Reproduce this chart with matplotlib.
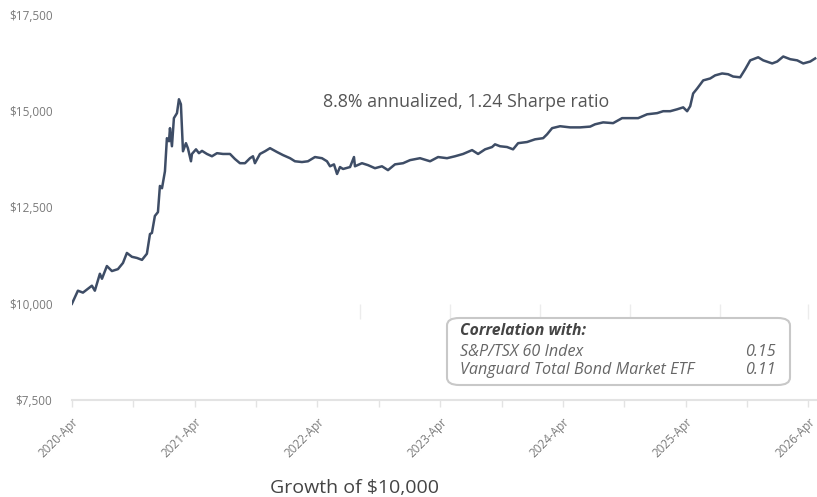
import numpy as np
import matplotlib
matplotlib.use("Agg")
import matplotlib.pyplot as plt
from matplotlib.patches import FancyBboxPatch

plt.rcParams['font.family'] = ['Open Sans', 'DejaVu Sans']

# time in decimal years (2020.25 = 2020-Apr), value of $10,000 invested
t = [2020.250, 2020.299, 2020.340, 2020.413, 2020.437, 2020.478, 2020.495, 2020.535,
     2020.576, 2020.625, 2020.666, 2020.698, 2020.739, 2020.780, 2020.821, 2020.861,
     2020.886, 2020.902, 2020.926, 2020.951, 2020.967, 2020.984, 2021.008, 2021.024,
     2021.041, 2021.049, 2021.065, 2021.081, 2021.106, 2021.122, 2021.138, 2021.147,
     2021.155, 2021.179, 2021.195, 2021.220, 2021.228, 2021.261, 2021.285, 2021.310,
     2021.350, 2021.391, 2021.432, 2021.481, 2021.538, 2021.578, 2021.619, 2021.660,
     2021.701, 2021.725, 2021.741, 2021.782, 2021.823, 2021.864, 2021.921, 2021.970,
     2022.027, 2022.067, 2022.124, 2022.173, 2022.230, 2022.287, 2022.328, 2022.353,
     2022.385, 2022.410, 2022.434, 2022.459, 2022.516, 2022.548, 2022.556, 2022.613,
     2022.662, 2022.719, 2022.776, 2022.825, 2022.882, 2022.948, 2023.005, 2023.086,
     2023.168, 2023.233, 2023.306, 2023.371, 2023.437, 2023.510, 2023.559, 2023.616,
     2023.673, 2023.697, 2023.738, 2023.795, 2023.844, 2023.885, 2023.958, 2024.023,
     2024.089, 2024.121, 2024.162, 2024.227, 2024.309, 2024.390, 2024.472, 2024.512,
     2024.578, 2024.659, 2024.732, 2024.814, 2024.863, 2024.936, 2025.018, 2025.067,
     2025.124, 2025.181, 2025.230, 2025.262, 2025.287, 2025.311, 2025.344, 2025.393,
     2025.450, 2025.490, 2025.547, 2025.596, 2025.637, 2025.694, 2025.735, 2025.776,
     2025.841, 2025.882, 2025.955, 2025.996, 2026.045, 2026.102, 2026.159, 2026.208,
     2026.265, 2026.305]
value = [10000, 10340, 10290, 10470, 10340, 10780, 10650, 10980,
         10850, 10900, 11060, 11320, 11220, 11190, 11140, 11300,
         11810, 11840, 12280, 12380, 13060, 13000, 13440, 14300,
         14220, 14560, 14090, 14820, 14950, 15310, 15180, 14560,
         13960, 14170, 14040, 13700, 13890, 14010, 13910, 13970,
         13890, 13830, 13910, 13890, 13890, 13760, 13650, 13650,
         13780, 13830, 13650, 13890, 13960, 14040, 13940, 13860,
         13780, 13700, 13680, 13700, 13810, 13780, 13700, 13570,
         13620, 13370, 13550, 13500, 13550, 13810, 13570, 13650,
         13600, 13520, 13570, 13470, 13620, 13650, 13730, 13780,
         13700, 13810, 13780, 13830, 13890, 13990, 13890, 14010,
         14070, 14140, 14090, 14070, 14010, 14170, 14200, 14270,
         14300, 14400, 14560, 14610, 14580, 14580, 14600, 14660,
         14710, 14690, 14820, 14820, 14820, 14920, 14950, 15000,
         15000, 15050, 15100, 15000, 15130, 15460, 15590, 15800,
         15850, 15930, 15980, 15960, 15900, 15880, 16090, 16320,
         16400, 16320, 16240, 16290, 16420, 16350, 16320, 16240,
         16290, 16370]

tick_years = [2020.25, 2021.25, 2022.25, 2023.25, 2024.25, 2025.25, 2026.25]
tick_labels = ['2020-Apr', '2021-Apr', '2022-Apr', '2023-Apr', '2024-Apr', '2025-Apr', '2026-Apr']
minor_years = [2020.75, 2021.75, 2022.75, 2023.75, 2024.75, 2025.75]
y_ticks = [7500, 10000, 12500, 15000, 17500]
faint_marks = [2022.597, 2023.330, 2024.064, 2024.797, 2025.531, 2026.25]

corr_names = ['S&P/TSX 60 Index', 'Vanguard Total Bond Market ETF']
corr_values = ['0.15', '0.11']

fig = plt.figure(figsize=(8.17, 4.97), dpi=100)
ax = fig.add_axes([0.088, 0.195, 0.912, 0.775])

ax.vlines(faint_marks, 9600, 10000, color='#ececec', lw=1, zorder=0)
ax.plot(t, value, color='#3e4d66', lw=1.8, zorder=3)

ax.set_xlim(2020.25, 2026.32)
ax.set_ylim(7500, 17500)

ax.set_yticks(y_ticks)
ax.set_yticklabels(['${:,}'.format(v) for v in y_ticks])
ax.set_xticks(tick_years)
ax.set_xticklabels(tick_labels, rotation=45, ha='right', rotation_mode='anchor')
ax.set_xticks(minor_years, minor=True)

for s in ['top', 'right', 'left']:
    ax.spines[s].set_visible(False)
ax.spines['bottom'].set_color('#e3e3e3')
ax.spines['bottom'].set_linewidth(1.5)

ax.tick_params(axis='y', length=0, pad=14, labelsize=8.5, labelcolor='#7a7a7a')
ax.tick_params(axis='x', which='both', length=5, color='#e3e3e3', width=1,
               pad=6, labelsize=8.5, labelcolor='#7a7a7a')

fig.text(466 / 817, 1 - 102 / 497, '8.8% annualized, 1.24 Sharpe ratio',
         ha='center', va='center', fontsize=12.8, color='#555555')

# correlation box
box = FancyBboxPatch((447 / 817, 1 - 385 / 497), (790 - 447) / 817, (385 - 318) / 497,
                     boxstyle='round,pad=0,rounding_size=0.015', transform=fig.transFigure,
                     facecolor='white', edgecolor='#c8c8c8', lw=1.5, zorder=5)
fig.add_artist(box)
fig.text(460 / 817, 1 - 331 / 497, 'Correlation with:', ha='left', va='center',
         fontsize=11.3, style='italic', weight='bold', color='#444444', zorder=6)
for i, (nm, cv) in enumerate(zip(corr_names, corr_values)):
    yy = 1 - (352 + 18 * i) / 497
    fig.text(460 / 817, yy, nm, ha='left', va='center', fontsize=11.6,
             style='italic', color='#666666', zorder=6)
    fig.text(776 / 817, yy, cv, ha='right', va='center', fontsize=11.6,
             style='italic', color='#666666', zorder=6)

fig.text(355 / 817, 1 - 488 / 497, 'Growth of $10,000', ha='center', va='center',
         fontsize=14, color='#444444')

fig.savefig('out.png', dpi=100)
